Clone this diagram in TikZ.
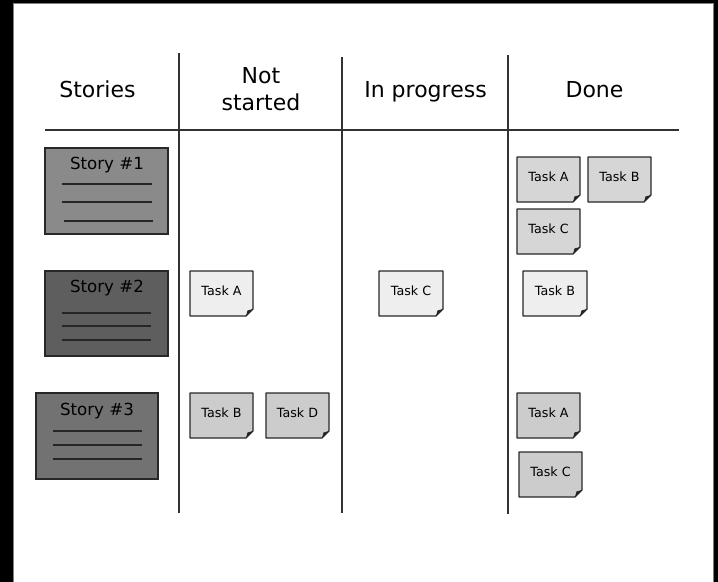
\documentclass[tikz,border=0pt]{standalone}
\usepackage{fontspec}
\setmainfont{DejaVu Sans}

\definecolor{storyone}{RGB}{138,138,138}
\definecolor{storytwo}{RGB}{94,94,94}
\definecolor{storythree}{RGB}{114,114,114}
\definecolor{taskdark}{RGB}{214,214,214}
\definecolor{tasklight}{RGB}{238,238,238}
\definecolor{taskmid}{RGB}{204,204,204}
\definecolor{rule}{RGB}{50,50,50}

\tikzset{every picture/.style={line width=0.75pt}}
\tikzset{
  board/.style={draw=rule, line width=1pt},
  storybox/.style={draw={rgb,255:red,40;green,40;blue,40}, line width=1.3pt},
  storyline/.style={draw=black!85, line width=1.3pt},
  card/.style={draw={rgb,255:red,40;green,40;blue,40}, line width=1pt, line join=round},
  fold/.style={fill=black!85},
  headtxt/.style={font=\fontsize{16.5}{20}\selectfont, align=center, inner sep=0pt},
  storytxt/.style={font=\fontsize{12.5}{15}\selectfont, inner sep=0pt},
  tasktxt/.style={font=\fontsize{9.5}{11}\selectfont, inner sep=0pt}
}

\begin{document}
\begin{tikzpicture}[x=0.75pt,y=0.75pt,yscale=-1,xscale=1]
\useasboundingbox (0,0) rectangle (718,582);

%Frame
\fill [black] (0,0) rectangle (718,582);
\draw [fill=white, draw=gray] (13,3) rectangle (713,584);

%Straight Lines [header rule]
\draw [board] (45,130) -- (679,130) ;
%Straight Lines [column rules]
\draw [board] (179,53) -- (179,513) ;
\draw [board] (342,57) -- (342,513) ;
\draw [board] (508,55) -- (508,514) ;

% Text Node
\draw (97.5,97) node [headtxt, anchor=base] (hstories) {Stories};
% Text Node
\draw (261,67) node [headtxt, anchor=north] (hnotstarted) {Not\\started};
% Text Node
\draw (425.5,97) node [headtxt, anchor=base] (hprogress) {In progress};
% Text Node
\draw (594.5,97) node [headtxt, anchor=base] (hdone) {Done};

%Story Box [story 1]
\draw [storybox, fill=storyone] (45,148) rectangle (168,234) ;
\draw (107,165) node [storytxt] (sone) {Story \#1};
\draw [storyline] (62,184) -- (152,184) ;
\draw [storyline] (62,202) -- (152,202) ;
\draw [storyline] (64,221) -- (153,221) ;

%Story Box [story 2]
\draw [storybox, fill=storytwo] (45,271) rectangle (168,356) ;
\draw (107,288) node [storytxt] (stwo) {Story \#2};
\draw [storyline] (62,313) -- (151,313) ;
\draw [storyline] (62,326) -- (151,326) ;
\draw [storyline] (62,340) -- (151,340) ;

%Story Box [story 3]
\draw [storybox, fill=storythree] (36,393) rectangle (158,479) ;
\draw (97,411) node [storytxt] (sthree) {Story \#3};
\draw [storyline] (53,431) -- (142,431) ;
\draw [storyline] (53,445) -- (142,445) ;
\draw [storyline] (53,459) -- (142,459) ;

%Task Card [done, story 1, A]
\draw [card, fill=taskdark] (517,157) -- (580,157) -- (580,195) -- (573,202) -- (517,202) -- cycle ;
\fill [fold] (580,195) -- (573,202) -- (574.5,196.5) -- cycle ;
\draw (548.5,176.5) node [tasktxt] (doneoneA) {Task A};
%Task Card [done, story 1, B]
\draw [card, fill=taskdark] (588,157) -- (651,157) -- (651,195) -- (644,202) -- (588,202) -- cycle ;
\fill [fold] (651,195) -- (644,202) -- (645.5,196.5) -- cycle ;
\draw (619.5,176.5) node [tasktxt] (doneoneB) {Task B};
%Task Card [done, story 1, C]
\draw [card, fill=taskdark] (517,209) -- (580,209) -- (580,247) -- (573,254) -- (517,254) -- cycle ;
\fill [fold] (580,247) -- (573,254) -- (574.5,248.5) -- cycle ;
\draw (548.5,228.5) node [tasktxt] (doneoneC) {Task C};

%Task Card [not started, story 2, A]
\draw [card, fill=tasklight] (190,271) -- (253,271) -- (253,309) -- (246,316) -- (190,316) -- cycle ;
\fill [fold] (253,309) -- (246,316) -- (247.5,310.5) -- cycle ;
\draw (221.5,290.5) node [tasktxt] (nstwoA) {Task A};
%Task Card [in progress, story 2, C]
\draw [card, fill=tasklight] (379,271) -- (443,271) -- (443,309) -- (436,316) -- (379,316) -- cycle ;
\fill [fold] (443,309) -- (436,316) -- (437.5,310.5) -- cycle ;
\draw (411,290.5) node [tasktxt] (iptwoC) {Task C};
%Task Card [done, story 2, B]
\draw [card, fill=tasklight] (523,271) -- (587,271) -- (587,309) -- (580,316) -- (523,316) -- cycle ;
\fill [fold] (587,309) -- (580,316) -- (581.5,310.5) -- cycle ;
\draw (555,290.5) node [tasktxt] (donetwoB) {Task B};

%Task Card [not started, story 3, B]
\draw [card, fill=taskmid] (190,393) -- (253,393) -- (253,431) -- (246,438) -- (190,438) -- cycle ;
\fill [fold] (253,431) -- (246,438) -- (247.5,432.5) -- cycle ;
\draw (221.5,412.5) node [tasktxt] (nsthreeB) {Task B};
%Task Card [not started, story 3, D]
\draw [card, fill=taskmid] (266,393) -- (329,393) -- (329,431) -- (322,438) -- (266,438) -- cycle ;
\fill [fold] (329,431) -- (322,438) -- (323.5,432.5) -- cycle ;
\draw (297.5,412.5) node [tasktxt] (nsthreeD) {Task D};
%Task Card [done, story 3, A]
\draw [card, fill=taskmid] (517,393) -- (580,393) -- (580,431) -- (573,438) -- (517,438) -- cycle ;
\fill [fold] (580,431) -- (573,438) -- (574.5,432.5) -- cycle ;
\draw (548.5,412.5) node [tasktxt] (donethreeA) {Task A};
%Task Card [done, story 3, C]
\draw [card, fill=taskmid] (519,452) -- (582,452) -- (582,490) -- (575,497) -- (519,497) -- cycle ;
\fill [fold] (582,490) -- (575,497) -- (576.5,491.5) -- cycle ;
\draw (550.5,471.5) node [tasktxt] (donethreeC) {Task C};

\end{tikzpicture}
\end{document}
